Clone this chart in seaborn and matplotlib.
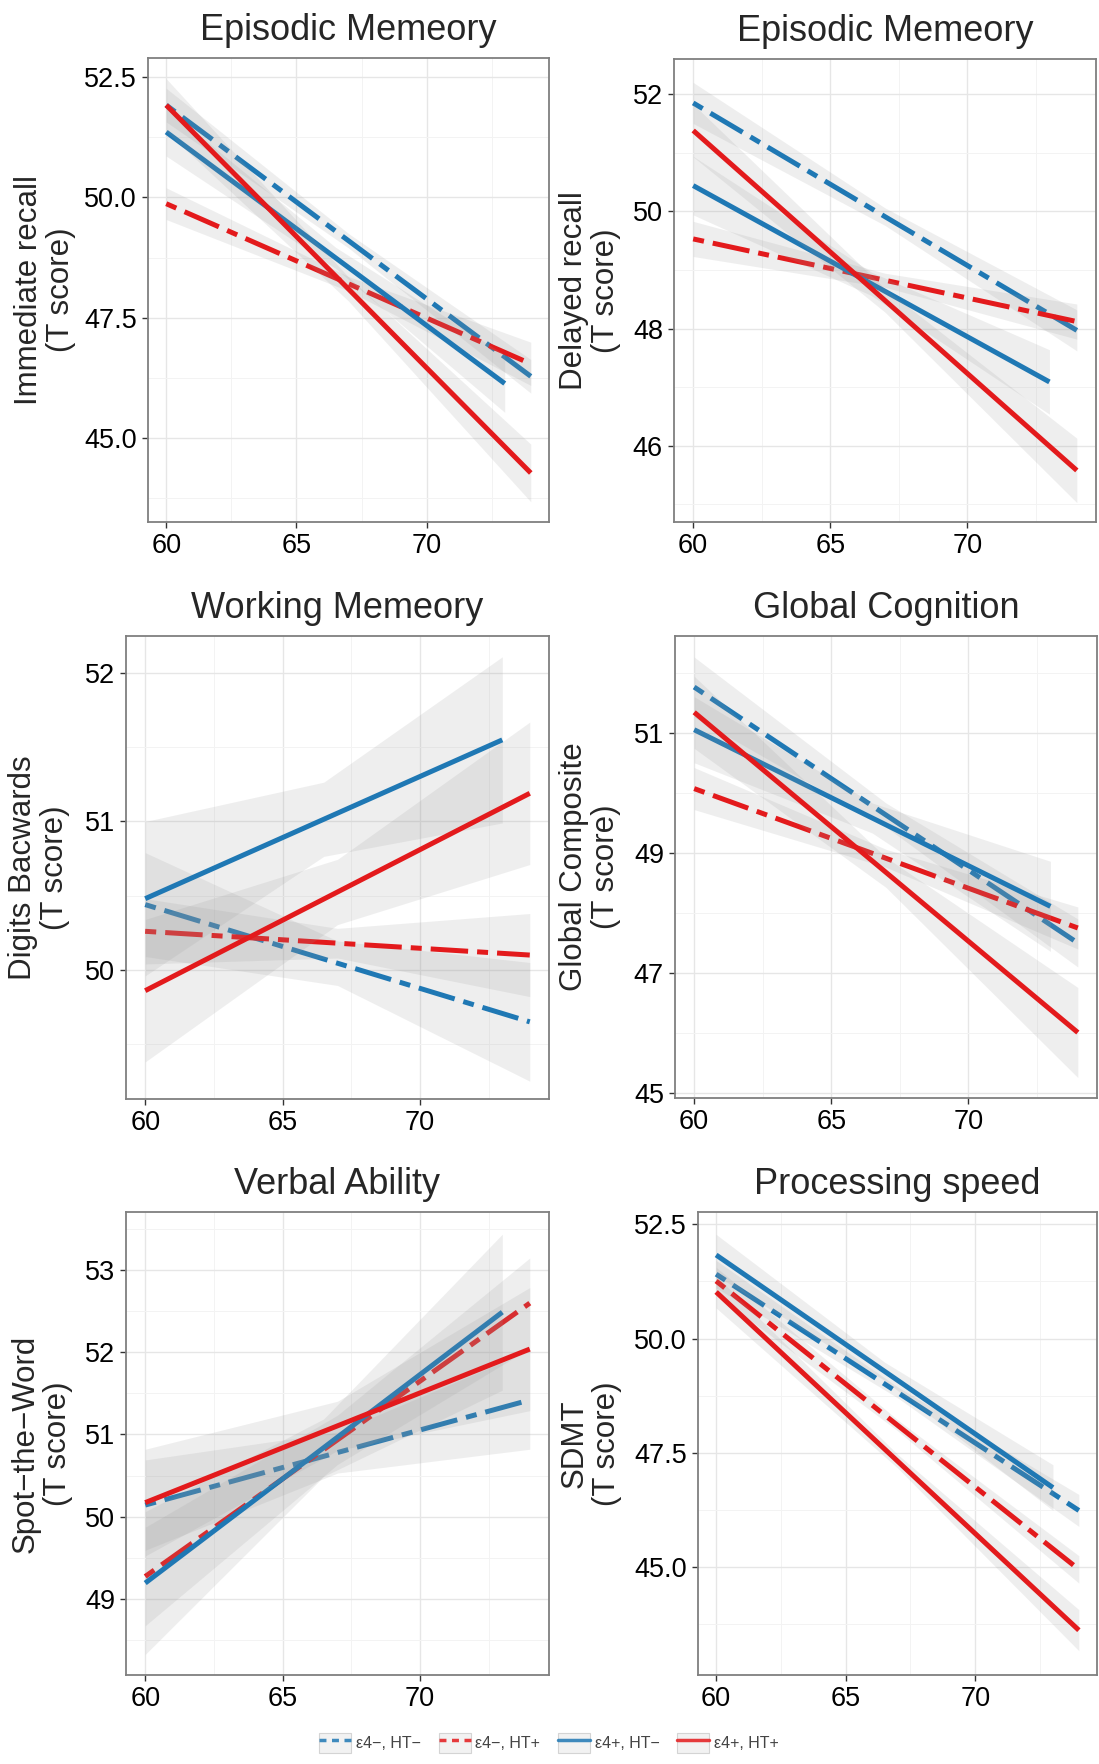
import numpy as np
import pandas as pd
import matplotlib
matplotlib.use("Agg")
import matplotlib.pyplot as plt
import seaborn as sns
from matplotlib.lines import Line2D
from matplotlib.patches import Patch
from matplotlib.legend_handler import HandlerTuple
from matplotlib.ticker import AutoMinorLocator

# ---------------- data ----------------
groups = ["\u03b54\u2212, HT\u2212", "\u03b54\u2212, HT+", "\u03b54+, HT\u2212", "\u03b54+, HT+"]
group_colors = ["#1F78B4", "#E31A1C", "#1F78B4", "#E31A1C"]
group_dashed = [True, True, False, False]
age_start = [60, 60, 60, 60]
age_end = [74, 74, 73, 74]
xticks = [60, 65, 70]

titles = ["Episodic Memeory", "Episodic Memeory", "Working Memeory",
          "Global Cognition", "Verbal Ability", "Processing speed"]
ylabels = ["Immediate recall\n(T score)", "Delayed recall\n(T score)",
           "Digits Bacwards\n(T score)", "Global Composite\n(T score)",
           "Spot\u2212the\u2212Word\n(T score)", "SDMT\n(T score)"]

immediate_ticks = [45.0, 47.5, 50.0, 52.5]
immediate_ticklabels = ["45.0", "47.5", "50.0", "52.5"]
immediate_lim = [43.25, 52.90]
immediate_start = [51.92, 49.87, 51.36, 51.92]
immediate_end = [46.28, 46.54, 46.13, 44.27]
immediate_ci = [[0.35, 0.15, 0.35], [0.33, 0.15, 0.45], [0.50, 0.22, 0.60], [0.55, 0.25, 0.60]]

delayed_ticks = [46, 48, 50, 52]
delayed_ticklabels = ["46", "48", "50", "52"]
delayed_lim = [44.70, 52.60]
delayed_start = [51.85, 49.53, 50.44, 51.38]
delayed_end = [47.97, 48.12, 47.09, 45.58]
delayed_ci = [[0.35, 0.15, 0.35], [0.30, 0.12, 0.30], [0.50, 0.20, 0.55], [0.45, 0.20, 0.55]]

digits_ticks = [50, 51, 52]
digits_ticklabels = ["50", "51", "52"]
digits_lim = [49.13, 52.25]
digits_start = [50.44, 50.26, 50.48, 49.86]
digits_end = [49.65, 50.10, 51.55, 51.19]
digits_ci = [[0.35, 0.15, 0.40], [0.22, 0.10, 0.28], [0.52, 0.25, 0.56], [0.48, 0.22, 0.48]]

global_ticks = [45, 47, 49, 51]
global_ticklabels = ["45", "47", "49", "51"]
global_lim = [44.92, 52.61]
global_start = [51.76, 50.07, 51.05, 51.34]
global_end = [47.50, 47.75, 48.11, 46.01]
global_ci = [[0.50, 0.20, 0.40], [0.35, 0.15, 0.35], [0.55, 0.25, 0.75], [0.60, 0.25, 0.75]]

spot_ticks = [49, 50, 51, 52, 53]
spot_ticklabels = ["49", "50", "51", "52", "53"]
spot_lim = [48.07, 53.71]
spot_start = [50.14, 49.27, 49.19, 50.17]
spot_end = [51.42, 52.60, 52.49, 52.04]
spot_ci = [[0.55, 0.25, 0.60], [0.60, 0.30, 0.55], [0.87, 0.35, 0.95], [0.65, 0.30, 0.75]]

sdmt_ticks = [45.0, 47.5, 50.0, 52.5]
sdmt_ticklabels = ["45.0", "47.5", "50.0", "52.5"]
sdmt_lim = [42.64, 52.77]
sdmt_start = [51.41, 51.26, 51.83, 51.02]
sdmt_end = [46.24, 44.95, 46.74, 43.62]
sdmt_ci = [[0.30, 0.12, 0.35], [0.30, 0.12, 0.30], [0.45, 0.20, 0.50], [0.35, 0.15, 0.45]]

panels = [
    (immediate_ticks, immediate_ticklabels, immediate_lim, immediate_start, immediate_end, immediate_ci),
    (delayed_ticks, delayed_ticklabels, delayed_lim, delayed_start, delayed_end, delayed_ci),
    (digits_ticks, digits_ticklabels, digits_lim, digits_start, digits_end, digits_ci),
    (global_ticks, global_ticklabels, global_lim, global_start, global_end, global_ci),
    (spot_ticks, spot_ticklabels, spot_lim, spot_start, spot_end, spot_ci),
    (sdmt_ticks, sdmt_ticklabels, sdmt_lim, sdmt_start, sdmt_end, sdmt_ci),
]

# ---------------- layout (pixels) ----------------
W, H = 1099, 1764
boxes = [(148, 58, 549, 522), (674, 59, 1096, 522),
         (126, 636, 549, 1099), (675, 636, 1097, 1098),
         (126, 1212, 549, 1675), (698, 1212, 1097, 1675)]
label_x = [45, 590, 39, 590, 42, 591]

sns.set_style("white")
plt.rcParams["font.family"] = ["Liberation Sans", "DejaVu Sans"]

fig = plt.figure(figsize=(W / 100, H / 100), dpi=100)

TWODASH = (0, (2.2, 1.8, 7.5, 1.8))

for pi, (ticks, ticklabels, ylim, ystart, yend, ci) in enumerate(panels):
    l, t, r, b = boxes[pi]
    ax = fig.add_axes([l / W, 1 - b / H, (r - l) / W, (b - t) / H])
    for gi, g in enumerate(groups):
        x0, x1 = age_start[gi], age_end[gi]
        xs = np.array([x0, (x0 + x1) / 2, x1])
        ys = np.array([ystart[gi], (ystart[gi] + yend[gi]) / 2, yend[gi]])
        hw = np.array(ci[gi])
        ax.fill_between(xs, ys - hw, ys + hw, color="#999999", alpha=0.16,
                        lw=0, zorder=2 + 2 * gi)
        df = pd.DataFrame({"age": [x0, x1], "score": [ystart[gi], yend[gi]]})
        sns.lineplot(data=df, x="age", y="score", ax=ax, color=group_colors[gi],
                     linewidth=3.6, errorbar=None, zorder=3 + 2 * gi,
                     linestyle=TWODASH if group_dashed[gi] else "-",
                     solid_capstyle="butt", dash_capstyle="butt")
    ax.set_xlim(59.3, 74.7)
    ax.set_ylim(*ylim)
    ax.set_xticks(xticks)
    ax.set_xticklabels([str(v) for v in xticks])
    ax.set_yticks(ticks)
    ax.set_yticklabels(ticklabels)
    ax.xaxis.set_minor_locator(AutoMinorLocator(2))
    ax.yaxis.set_minor_locator(AutoMinorLocator(2))
    ax.grid(which="major", color="#E6E6E6", linewidth=1.0, zorder=0)
    ax.grid(which="minor", color="#F3F3F3", linewidth=0.7, zorder=0)
    ax.set_axisbelow(True)
    ax.tick_params(which="major", direction="out", length=4, width=1.0,
                   color="#333333", labelsize=19.5, labelcolor="black", pad=4,
                   left=True, bottom=True)
    ax.tick_params(which="minor", length=0)
    for sp in ax.spines.values():
        sp.set_color("#7F7F7F")
        sp.set_linewidth(1.3)
        sp.set_visible(True)
    ax.set_xlabel("")
    ax.set_title(titles[pi], fontsize=26, pad=13)
    ax.set_ylabel(ylabels[pi], fontsize=22.5, linespacing=1.1)
    lab = ax.yaxis.label
    lab.set_rotation_mode("default")
    lab.set_va("center")
    lab.set_ha("center")
    lab.set_multialignment("center")
    ax.yaxis.set_label_coords((label_x[pi] - l) / (r - l), 0.5)

# ---------------- legend ----------------
handles = []
for gi, g in enumerate(groups):
    key = Patch(facecolor="#F2F2F2", edgecolor="#D4D4D4", linewidth=0.8)
    ln = Line2D([], [], color=group_colors[gi], linewidth=2.5, alpha=0.85,
                linestyle=(0, (2.0, 1.6)) if group_dashed[gi] else "-")
    handles.append((key, ln))
fig.legend(handles, groups, loc="center", bbox_to_anchor=(549 / W, 1 - 1743 / H),
           ncol=4, frameon=False, fontsize=11.5, labelcolor="#444444",
           handlelength=2.0, handleheight=1.6, handletextpad=0.3,
           columnspacing=1.1, borderaxespad=0,
           handler_map={tuple: HandlerTuple(ndivide=1, pad=0)})

fig.savefig("out.png", dpi=100)
